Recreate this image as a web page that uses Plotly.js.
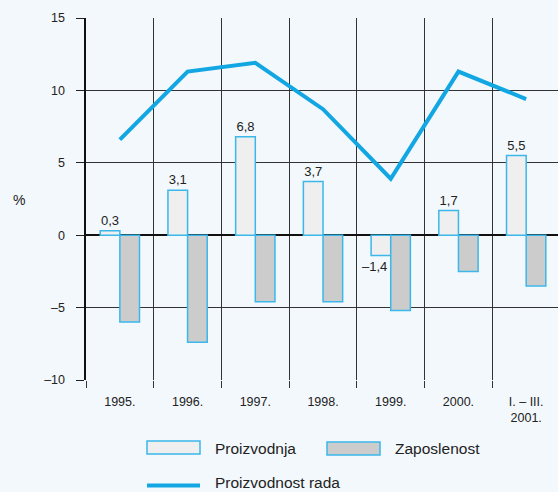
<!DOCTYPE html>
<html>
<head>
<meta charset="utf-8">
<script src="https://cdn.plot.ly/plotly-3.0.1.min.js"></script>
<style>
html,body{margin:0;padding:0;background:#F3F8FC;overflow:hidden;}
#chart{width:558px;height:492px;}
</style>
</head>
<body>
<div id="chart"></div>
<script>
var categories = ['1995.', '1996.', '1997.', '1998.', '1999.', '2000.', 'I. – III.<br>2001.'];
var proizvodnja = [0.3, 3.1, 6.8, 3.7, -1.4, 1.7, 5.5];
var zaposlenost = [-6.0, -7.4, -4.6, -4.6, -5.2, -2.5, -3.5];
var proizvodnostRada = [6.6, 11.3, 11.9, 8.7, 3.9, 11.3, 9.4];
var yTickVals = [-10, -5, 0, 5, 10, 15];
var yTickText = ['–10', '–5', '0', '5', '10', '15'];
var seriesNames = ['Proizvodnja', 'Zaposlenost', 'Proizvodnost rada'];

function fmt(v) { return v.toFixed(1).replace('.', ',').replace('-', '–'); }

var FONT = 'Liberation Sans, Arial, sans-serif';
var BLUE = '#12A6E2';
var OUTLINE = '#3BB7EA';

var traces = [
  {
    type: 'bar', x: categories, y: proizvodnja, name: seriesNames[0],
    marker: {color: '#EFEFEF', line: {color: OUTLINE, width: 1.5}},
    text: proizvodnja.map(function (v) { return v >= 0 ? fmt(v) : ''; }),
    textposition: 'outside', cliponaxis: false,
    constraintext: 'none',
    textfont: {family: FONT, size: 13, color: '#222'},
    hoverinfo: 'none'
  },
  {
    type: 'bar', x: categories, y: zaposlenost, name: seriesNames[1],
    marker: {color: '#CCCCCC', line: {color: OUTLINE, width: 1.5}},
    hoverinfo: 'none'
  },
  {
    type: 'scatter', mode: 'lines', x: categories, y: proizvodnostRada, name: seriesNames[2],
    line: {color: BLUE, width: 4}, hoverinfo: 'none'
  }
];

// plot area in pixels: left 86, top 18, width 472, height 362
function px(x) { return (x - 86) / 472; }
function py(y) { return (380 - y) / 362; }

var annotations = [
  {text: '%', xref: 'paper', yref: 'paper', x: px(18.5), y: py(199.5), showarrow: false,
   xanchor: 'center', yanchor: 'middle', font: {family: FONT, size: 14, color: '#222'}},
  {text: seriesNames[0], xref: 'paper', yref: 'paper', x: px(213), y: py(449), showarrow: false,
   xanchor: 'left', yanchor: 'middle', font: {family: FONT, size: 15.5, color: '#222'}},
  {text: seriesNames[1], xref: 'paper', yref: 'paper', x: px(393), y: py(449), showarrow: false,
   xanchor: 'left', yanchor: 'middle', font: {family: FONT, size: 15.5, color: '#222'}},
  {text: seriesNames[2], xref: 'paper', yref: 'paper', x: px(213), y: py(482), showarrow: false,
   xanchor: 'left', yanchor: 'middle', font: {family: FONT, size: 15.5, color: '#222'}}
];
// labels for negative Proizvodnja values sit below the bar, left of the neighbouring bar
proizvodnja.forEach(function (v, i) {
  if (v < 0) {
    annotations.push({text: fmt(v), xref: 'x', yref: 'y', x: i, y: v,
      showarrow: false, xanchor: 'right', yanchor: 'top', xshift: -2, yshift: -2,
      font: {family: FONT, size: 13, color: '#222'}});
  }
});

var layout = {
  width: 558, height: 492,
  margin: {l: 86, r: 0, t: 18, b: 112, pad: 0},
  paper_bgcolor: '#F3F8FC', plot_bgcolor: '#F3F8FC',
  font: {family: FONT, color: '#222'},
  showlegend: false,
  barmode: 'group', bargap: 0.42, bargroupgap: 0,
  xaxis: {
    type: 'category', range: [-0.5, 6.47], fixedrange: true,
    tickson: 'boundaries', ticks: 'outside', ticklen: 7, tickcolor: '#333', tickwidth: 1,
    ticklabelstandoff: 12,
    showgrid: true, gridcolor: '#333', gridwidth: 1,
    showline: false, zeroline: false, automargin: false,
    tickfont: {family: FONT, size: 12.5, color: '#222'}
  },
  yaxis: {
    range: [-10, 15], fixedrange: true,
    tickvals: yTickVals, ticktext: yTickText,
    ticks: 'outside', ticklen: 8, tickcolor: '#222', tickwidth: 1,
    ticklabelstandoff: 8,
    showgrid: true, gridcolor: '#333', gridwidth: 1,
    zeroline: true, zerolinecolor: '#111', zerolinewidth: 2.5,
    showline: true, linecolor: '#111', linewidth: 2.5,
    automargin: false,
    tickfont: {family: FONT, size: 12.5, color: '#222'}
  },
  shapes: [
    {type: 'rect', xref: 'paper', yref: 'paper', x0: px(147), x1: px(200), y0: py(454), y1: py(441),
     fillcolor: '#EFEFEF', line: {color: OUTLINE, width: 1.5}},
    {type: 'rect', xref: 'paper', yref: 'paper', x0: px(327), x1: px(380), y0: py(455), y1: py(442),
     fillcolor: '#CCCCCC', line: {color: OUTLINE, width: 1.5}},
    {type: 'line', xref: 'paper', yref: 'paper', x0: px(147), x1: px(200), y0: py(485.5), y1: py(485.5),
     line: {color: BLUE, width: 4}}
  ],
  annotations: annotations
};

Plotly.newPlot('chart', traces, layout, {displayModeBar: false, staticPlot: true});
</script>
</body>
</html>
